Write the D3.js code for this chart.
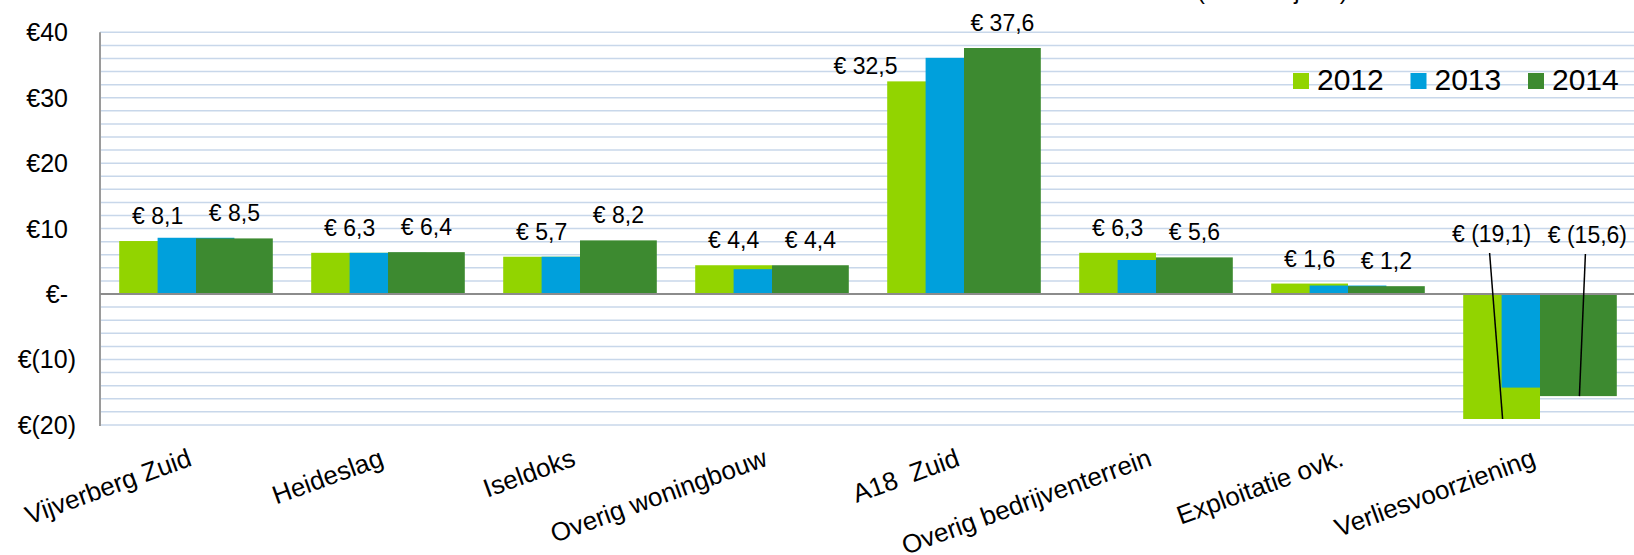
<!DOCTYPE html>
<html>
<head>
<meta charset="utf-8">
<script src="https://cdn.jsdelivr.net/npm/d3@7"></script>
<style>
  body { margin: 0; background: #fff; }
  svg { display: block; font-family: "Liberation Sans", Arial, sans-serif; }
</style>
</head>
<body>
<div id="chart"></div>
<script>
// data (x € 1 miljoen)
const categories = ['Vijverberg Zuid', 'Heideslag', 'Iseldoks', 'Overig woningbouw',
  'A18  Zuid', 'Overig bedrijventerrein', 'Exploitatie ovk.', 'Verliesvoorziening'];
const years = ['2012', '2013', '2014'];
const values2012 = [8.1, 6.3, 5.7, 4.4, 32.5, 6.3, 1.6, -19.1];
const values2013 = [8.6, 6.3, 5.7, 3.8, 36.1, 5.2, 1.3, -14.3];
const values2014 = [8.5, 6.4, 8.2, 4.4, 37.6, 5.6, 1.2, -15.6];
const yTicks = [40, 30, 20, 10, 0, -10, -20];
const labelledYears = ['2012', '2014'];

const colors = { '2012': '#92d400', '2013': '#00a0dc', '2014': '#3d8a30' };

function barchart() {
  let width = 1634,
    height = 555;

  // labels that were dragged by hand in the original
  const labelShift = {
    'A18  Zuid|2012': { dx: -60, dy: 10 },
    'Verliesvoorziening|2012': { dx: -10, dy: -35, leader: true },
    'Verliesvoorziening|2014': { dx: 9, dy: -34, leader: true }
  };

  function chart(selector) {
    const svg = d3.select(selector)
      .append('svg')
      .attr('width', width)
      .attr('height', height);

    const series = years.map((yr, i) => ({
      year: yr,
      values: [values2012, values2013, values2014][i]
    }));

    const x = d3.scaleBand()
      .domain(categories)
      .range([100, 1636])
      .paddingInner(0.2)
      .paddingOuter(0.1);

    const y = d3.scaleLinear()
      .domain([-20, 40])
      .range([424.9, 32.3]);

    // bars overlap by half, each one half the group wide
    const barW = x.bandwidth() / 2;
    const offset = d3.scalePoint().domain(years).range([0, barW]);

    // title, cut off at the top edge as in the original
    svg.append('text')
      .attr('x', 1197)
      .attr('y', -1)
      .attr('font-size', '24px')
      .text('(x € 1 miljoen)');

    // gridlines every 2
    svg.append('g')
      .selectAll('line')
      .data(d3.range(-20, 41, 2))
      .enter().append('line')
      .attr('x1', 100)
      .attr('x2', width)
      .attr('y1', d => y(d))
      .attr('y2', d => y(d))
      .attr('stroke', '#c8d7ea')
      .attr('stroke-width', 1.5);

    // y tick labels, accounting style
    svg.append('g')
      .selectAll('text')
      .data(yTicks)
      .enter().append('text')
      .attr('x', d => d < 0 ? 76 : 68)
      .attr('y', d => y(d))
      .attr('dy', '0.36em')
      .attr('text-anchor', 'end')
      .attr('font-size', '25px')
      .attr('fill', '#000')
      .text(d => d === 0 ? '€-' : d < 0 ? '€(' + (-d) + ')' : '€' + d);

    // bars
    const groups = svg.append('g')
      .selectAll('g')
      .data(series)
      .enter().append('g')
      .attr('fill', d => colors[d.year]);

    groups.selectAll('rect')
      .data(s => s.values.map((v, i) => ({ year: s.year, cat: categories[i], value: v })))
      .enter().append('rect')
      .attr('x', d => x(d.cat) + offset(d.year))
      .attr('width', barW)
      .attr('y', d => y(Math.max(0, d.value)))
      .attr('height', d => Math.abs(y(d.value) - y(0)));

    // axis lines
    svg.append('line')
      .attr('x1', 100).attr('x2', 100)
      .attr('y1', y(40)).attr('y2', y(-20) + 1)
      .attr('stroke', '#9a9a9a')
      .attr('stroke-width', 2);

    svg.append('line')
      .attr('x1', 100).attr('x2', width)
      .attr('y1', y(0)).attr('y2', y(0))
      .attr('stroke', '#8c8c8c')
      .attr('stroke-width', 2);

    // data labels on 2012 and 2014
    const fmt = v => {
      const s = d3.format('.1f')(Math.abs(v)).replace('.', ',');
      return v < 0 ? '€ (' + s + ')' : '€ ' + s;
    };

    const labels = [];
    series.filter(s => labelledYears.includes(s.year)).forEach(s => {
      s.values.forEach((v, i) => {
        const cat = categories[i];
        const shift = labelShift[cat + '|' + s.year] || { dx: 0, dy: 0 };
        const cx = x(cat) + offset(s.year) + barW / 2;
        labels.push({
          cx: cx,
          endY: y(v),
          lx: cx + shift.dx,
          ly: y(Math.max(0, v)) - 17 + shift.dy,
          leader: shift.leader,
          text: fmt(v)
        });
      });
    });

    svg.append('g')
      .selectAll('line')
      .data(labels.filter(d => d.leader))
      .enter().append('line')
      .attr('x1', d => d.lx - 2)
      .attr('y1', d => d.ly + 11)
      .attr('x2', d => d.cx + 1)
      .attr('y2', d => d.endY)
      .attr('stroke', '#000')
      .attr('stroke-width', 1.5);

    svg.append('g')
      .selectAll('text')
      .data(labels)
      .enter().append('text')
      .attr('x', d => d.lx)
      .attr('y', d => d.ly)
      .attr('text-anchor', 'middle')
      .attr('font-size', '23px')
      .text(d => d.text);

    // category labels, rotated
    svg.append('g')
      .selectAll('text')
      .data(categories)
      .enter().append('text')
      .attr('transform', d => 'translate(' + (x(d) + x.bandwidth() / 2 - 3) + ',465) rotate(-20)')
      .attr('text-anchor', 'end')
      .attr('font-size', '26px')
      .attr('xml:space', 'preserve')
      .style('white-space', 'pre')
      .text(d => d);

    // legend
    const legend = svg.append('g')
      .selectAll('g')
      .data(years)
      .enter().append('g')
      .attr('transform', (d, i) => 'translate(' + (1293 + i * 117.5) + ',0)');

    legend.append('rect')
      .attr('x', 0).attr('y', 73)
      .attr('width', 16).attr('height', 16)
      .attr('fill', d => colors[d]);

    legend.append('text')
      .attr('x', 24)
      .attr('y', 89.5)
      .attr('font-size', '30px')
      .text(d => d);
  }

  return chart;
}

barchart()('#chart');
</script>
</body>
</html>
